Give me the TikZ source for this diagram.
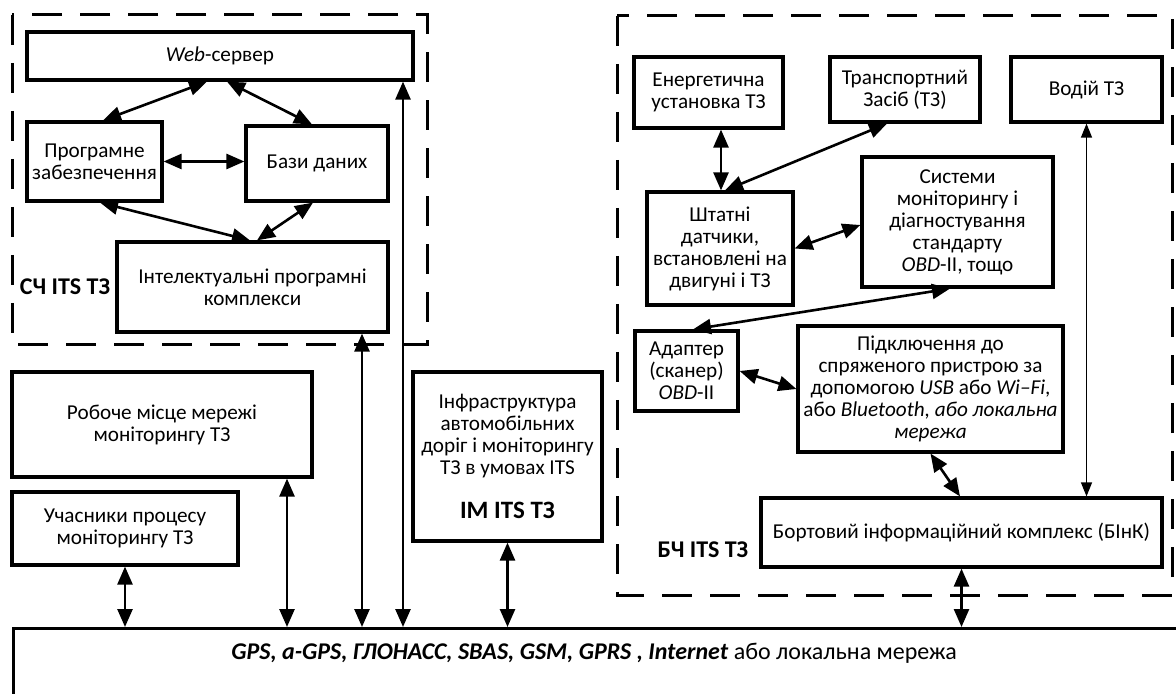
\documentclass[tikz,border=0pt]{standalone}
\usepackage{fontspec}
\setmainfont{Carlito}
\usetikzlibrary{arrows.meta,calc}
\tikzset{
  blk/.style={draw, line width=1.6pt, align=center, inner sep=1pt, font=\fontsize{10.6}{11}\selectfont},
  grp/.style={draw, line width=1.5pt, dash pattern=on 15pt off 9pt},
  link/.style={line width=1.3pt, {Triangle[length=9pt,width=7.5pt]}-{Triangle[length=9pt,width=7.5pt]}},
  thinlink/.style={line width=0.6pt, {Triangle[length=7pt,width=5.5pt]}-{Triangle[length=7pt,width=5.5pt]}},
  grplab/.style={font=\bfseries\fontsize{12}{14}\selectfont, inner sep=0pt},
  nettxt/.style={font=\fontsize{12}{14}\selectfont, inner sep=0pt},
}

\begin{document}
\begin{tikzpicture}[x=0.5pt, y=-0.5pt]
  \useasboundingbox (0,0) rectangle (1176,694);
  \clip (0,0) rectangle (1176,694);

  % СЧ ITS ТЗ
  \draw[grp] (12,15) rectangle (427,345);
  \node[blk, minimum width=193pt, minimum height=24pt] (web) at (220,56) {\textit{Web}-сервер};
  \node[blk, minimum width=67.5pt, minimum height=39.5pt] (prog) at (94.5,161.5) {Програмне\\забезпечення};
  \node[blk, minimum width=71pt, minimum height=37.5pt] (bazy) at (317,163.5) {Бази даних};
  \node[blk, minimum width=135.5pt, minimum height=45pt] (intel) at (252.5,287) {Інтелектуальні програмні\\комплекси};
  \node[grplab] (schlab) at (65,287) {СЧ ITS ТЗ};

  % left lower part
  \node[blk, minimum width=150pt, minimum height=52.5pt] (robo) at (162,424.5) {Робоче місце мережі\\моніторингу ТЗ};
  \node[blk, minimum width=113pt, minimum height=36.5pt] (uch) at (125,528.5) {Учасники процесу\\моніторингу ТЗ};
  \node[blk, minimum width=94.5pt, minimum height=84.5pt] (infra) at (507.5,456.5)
    {Інфраструктура\\автомобільних\\доріг і моніторингу\\ТЗ в умовах ITS\\[11pt]{\bfseries\fontsize{12.5}{14}\selectfont IM ITS ТЗ}};

  % БЧ ITS ТЗ
  \draw[grp] (617,16) rectangle (1172,595);
  \node[blk, minimum width=74.5pt, minimum height=35.5pt] (energ) at (708.5,92.5) {Енергетична\\установка ТЗ};
  \node[blk, minimum width=75pt, minimum height=32.5pt] (trans) at (905,89.5) {Транспортний\\Засіб (ТЗ)};
  \node[blk, minimum width=75.5pt, minimum height=32.5pt] (vodii) at (1086.5,89.5) {Водій ТЗ};
  \node[blk, minimum width=73pt, minimum height=56.5pt] (shtat) at (720,248.5) {Штатні\\датчики,\\встановлені на\\двигуні і ТЗ};
  \node[blk, minimum width=95.5pt, minimum height=65pt] (syst) at (957.5,222)
    {Системи\\моніторингу і\\діагностування\\стандарту\\\textit{OBD}-II, тощо};
  \node[blk, minimum width=51.5pt, minimum height=40pt] (adapt) at (686.5,371) {Адаптер\\(сканер)\\\textit{OBD}-II};
  \node[blk, minimum width=132.5pt, minimum height=63pt] (pidkl) at (930.5,389)
    {Підключення до\\спряженого пристрою за\\допомогою \textit{USB} або \textit{Wi–Fi},\\або \textit{Bluetooth, або локальна}\\\textit{мережа}};
  \node[blk, minimum width=200.5pt, minimum height=34.5pt] (bort) at (961.5,532.5) {Бортовий інформаційний комплекс (БІнК)};
  \node[grplab] (bchlab) at (703,550) {БЧ ITS ТЗ};

  % network
  \node[blk, anchor=north west, minimum width=590pt, minimum height=50pt] (net) at (12,627) {};
  \node[nettxt] (nettext) at (594,653)
    {\textbf{\textit{GPS, a-GPS, ГЛОНАСС, SBAS, GSM, GPRS , Internet}} або локальна мережа};

  % links inside СЧ
  \draw[link] ([xshift=-6.5pt]web.south) -- ([xshift=4.25pt]prog.north);
  \draw[link] ([xshift=3.5pt]web.south) -- ([xshift=-2.5pt]bazy.north);
  \draw[link] (prog.east) -- (prog.east -| bazy.west);
  \draw[link] ([xshift=2.75pt]prog.south) -- ([xshift=-1.25pt]intel.north);
  \draw[link] ([xshift=-2pt]bazy.south) -- ([xshift=2.25pt]intel.north);

  % links inside БЧ
  \coordinate (energdn) at ([xshift=6.25pt]energ.south);
  \draw[link] (energdn) -- (energdn |- shtat.north);
  \draw[link] ([xshift=2.5pt]shtat.north) -- ([xshift=-9pt]trans.south);
  \draw[link] (shtat.east) -- ([yshift=-1.5pt]syst.west);
  \draw[link] ([xshift=-3.75pt]syst.south) -- ([xshift=3.25pt]adapt.north);
  \draw[link] (adapt.east) -- (pidkl.west);
  \draw[link] (pidkl.south) -- ([xshift=-0.75pt]bort.north);
  \draw[thinlink] (vodii.south) -- (vodii.south |- bort.north);

  % links to the network
  \coordinate (webdn) at ([xshift=91.5pt]web.south);
  \draw[link] (webdn) -- (webdn |- net.north);
  \coordinate (inteldn) at ([xshift=54.75pt]intel.south);
  \draw[link] (inteldn) -- (inteldn |- net.north);
  \coordinate (robodn) at ([xshift=62.5pt]robo.south);
  \draw[link] (robodn) -- (robodn |- net.north);
  \draw[link] (uch.south) -- (uch.south |- net.north);
  \draw[link] (infra.south) -- (infra.south |- net.north);
  \draw[link] (bort.south) -- (bort.south |- net.north);
\end{tikzpicture}
\end{document}
